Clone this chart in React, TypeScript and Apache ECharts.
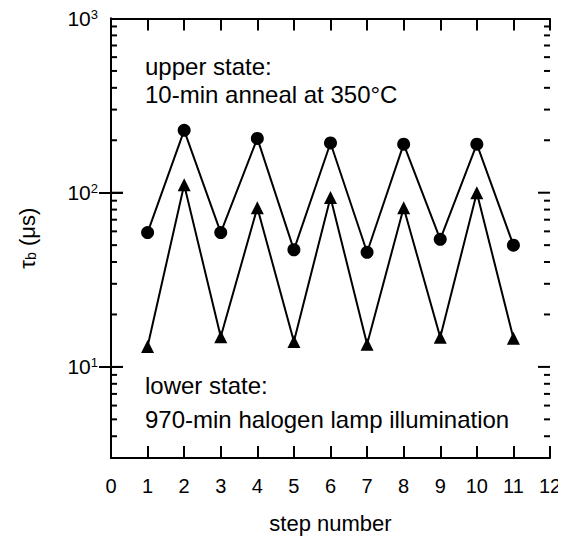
import React, { useEffect, useRef } from "react";
import * as echarts from "echarts";

const steps = [1, 2, 3, 4, 5, 6, 7, 8, 9, 10, 11];
const upperState = [59, 228, 59, 205, 47, 193, 45.5, 190, 54, 190, 50];
const lowerState = [13.1, 111, 14.9, 82, 14.0, 94, 13.5, 82, 14.8, 100, 14.6];
const majorYTicks = [10, 100];
const minorYTicks = [4, 5, 6, 7, 8, 9, 20, 30, 40, 50, 60, 70, 80, 90, 200, 300, 400, 500, 600, 700, 800, 900];
const xMin = 0;
const xMax = 12;
const annotations = [
  "upper state:",
  "10-min anneal at 350°C",
  "lower state:",
  "970-min halogen lamp illumination",
];

const FONT = "Liberation Sans, Arial, sans-serif";

export default function App() {
  const ref = useRef<HTMLDivElement>(null);
  useEffect(() => {
    if (!ref.current) return;
    const chart = echarts.init(ref.current, undefined, { renderer: "svg" });
    const axisLine = { show: true, lineStyle: { color: "#000", width: 2 } };
    const tickStyle = { color: "#000", width: 2 };
    const logBase = { type: "log", logBase: 10, min: 3, max: 1000, splitLine: { show: false } };
    const tickData: number[][] = [];
    [xMin, xMax].forEach((x) => {
      majorYTicks.forEach((v) => tickData.push([x, v, 1]));
      minorYTicks.forEach((v) => tickData.push([x, v, 0]));
    });
    const txt = (s: string) => ({ text: s, font: `24px ${FONT}`, fill: "#000" });
    chart.setOption({
      animation: false,
      backgroundColor: "#fff",
      textStyle: { fontFamily: FONT, color: "#000" },
      grid: { left: 102, right: 16, top: 9, bottom: 80, containLabel: false },
      xAxis: [
        {
          type: "value",
          min: xMin,
          max: xMax,
          interval: 1,
          position: "bottom",
          name: "step number",
          nameLocation: "middle",
          nameGap: 54,
          nameTextStyle: { fontSize: 22, color: "#000", fontFamily: FONT },
          axisLine,
          axisTick: { show: true, inside: true, length: 12, lineStyle: tickStyle },
          axisLabel: { fontSize: 20, color: "#000", margin: 18, fontFamily: FONT },
          splitLine: { show: false },
        },
        {
          type: "value",
          min: xMin,
          max: xMax,
          interval: 1,
          position: "top",
          axisLine,
          axisTick: { show: true, inside: true, length: 12, lineStyle: tickStyle },
          axisLabel: { show: false },
          splitLine: { show: false },
        },
      ],
      yAxis: [
        {
          ...logBase,
          position: "left",
          name: "{t|τ}{s|b}{t| (μs)}",
          nameLocation: "middle",
          nameGap: 73,
          nameRotate: 90,
          nameTextStyle: {
            fontFamily: FONT,
            color: "#000",
            rich: {
              t: { fontSize: 22, fontFamily: FONT, color: "#000" },
              s: { fontSize: 14, fontFamily: FONT, color: "#000", verticalAlign: "bottom", padding: [8, 0, 0, 0] },
            },
          },
          axisLine,
          axisTick: { show: true, inside: true, length: 12, lineStyle: tickStyle, customValues: majorYTicks },
          axisLabel: {
            margin: 13,
            showMinLabel: false,
            formatter: (v: number) => {
              const e = Math.round(Math.log10(v));
              if (Math.abs(Math.log10(v) - e) > 1e-6) return "";
              return `{b|10}{p|${e}}`;
            },
            rich: {
              b: { fontSize: 21, fontFamily: FONT, color: "#000" },
              p: { fontSize: 13, fontFamily: FONT, color: "#000", verticalAlign: "top" },
            },
          },
        },
        {
          ...logBase,
          position: "right",
          axisLine,
          axisTick: { show: true, inside: true, length: 12, lineStyle: tickStyle, customValues: majorYTicks },
          axisLabel: { show: false },
        },
      ],
      graphic: [
        { type: "text", left: 137, top: 46, style: txt(annotations[0]) },
        { type: "text", left: 137, top: 74, style: txt(annotations[1]) },
        { type: "text", left: 137, top: 365, style: txt(annotations[2]) },
        { type: "text", left: 137, top: 399, style: txt(annotations[3]) },
      ],
      series: [
        {
          type: "custom",
          xAxisIndex: 0,
          yAxisIndex: 0,
          silent: true,
          clip: false,
          zlevel: 1,
          z: 100,
          data: tickData,
          encode: { x: 0, y: 1 },
          renderItem: (params: any, api: any) => {
            const x = api.value(0);
            const v = api.value(1);
            const len = api.value(2) === 1 ? 12 : 6;
            const p = api.coord([x, v]);
            const dx = x === xMin ? len : -len;
            return {
              type: "line",
              shape: { x1: p[0], y1: p[1], x2: p[0] + dx, y2: p[1] },
              style: { stroke: "#000", lineWidth: 2 },
            };
          },
        },
        {
          type: "line",
          name: "upper",
          yAxisIndex: 0,
          data: steps.map((s, i) => [s, upperState[i]]),
          symbol: "circle",
          symbolSize: 13,
          itemStyle: { color: "#000" },
          lineStyle: { color: "#000", width: 2 },
        },
        {
          type: "line",
          name: "lower",
          yAxisIndex: 0,
          data: steps.map((s, i) => [s, lowerState[i]]),
          symbol: "triangle",
          symbolSize: 13,
          itemStyle: { color: "#000" },
          lineStyle: { color: "#000", width: 2 },
        },
      ],
    });
    return () => chart.dispose();
  }, []);
  return <div ref={ref} style={{ width: 558, height: 531 }} />;
}
